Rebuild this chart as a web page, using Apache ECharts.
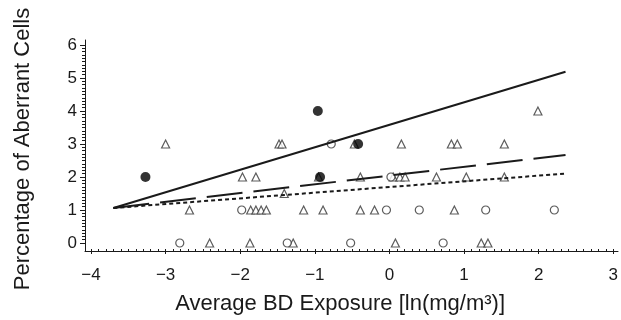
<!DOCTYPE html>
<html>
<head>
<meta charset="utf-8">
<script src="https://cdn.jsdelivr.net/npm/echarts@6/dist/echarts.min.js"></script>
<style>
  html, body { margin: 0; padding: 0; background: #fff; }
  #chart { width: 621px; height: 320px; }
</style>
</head>
<body>
<div id="chart"></div>
<script>
// points, [x, y]
const triangles = [
  [-2.41, 0], [-1.87, 0], [-1.29, 0], [0.08, 0], [1.23, 0], [1.32, 0],
  [-2.68, 1], [-1.86, 1], [-1.79, 1], [-1.72, 1], [-1.65, 1], [-1.15, 1],
  [-0.89, 1], [-0.39, 1], [-0.20, 1], [0.87, 1],
  [-1.41, 1.5],
  [-1.97, 2], [-1.79, 2], [-0.95, 2], [-0.39, 2], [0.05, 2], [0.14, 2],
  [0.21, 2], [0.63, 2], [1.03, 2], [1.54, 2],
  [-3.00, 3], [-1.48, 3], [-1.44, 3], [-0.47, 3], [0.16, 3], [0.83, 3],
  [0.91, 3], [1.54, 3],
  [1.99, 4]
];
const openCircles = [
  [-2.81, 0], [-1.37, 0], [-0.52, 0], [0.72, 0],
  [-1.98, 1], [-0.04, 1], [0.40, 1], [1.29, 1], [2.21, 1],
  [0.02, 2],
  [-0.78, 3]
];
const filledCircles = [[-3.27, 2], [-0.93, 2], [-0.42, 3], [-0.96, 4]];

// fitted lines, start and end
const solidFit = [[-3.70, 1.06], [2.36, 5.19]];
const dashedFit = [[-3.70, 1.06], [2.36, 2.67]];
const dottedFit = [[-3.70, 1.06], [2.34, 2.10]];

const xTitle = 'Average BD Exposure [ln(mg/m\u00b3)]';
const yTitle = 'Percentage of Aberrant Cells';

const ink = '#1a1a1a';
const font = '"Liberation Sans", Arial, sans-serif';

function minus(v) {
  return v < 0 ? '\u2212' + Math.abs(v) : String(v);
}

const chart = echarts.init(document.getElementById('chart'));

const tickStyle = { color: ink, width: 1 };

chart.setOption({
  animation: false,
  grid: [
    { left: 91, right: 5, top: 45, bottom: 75 },
    // longer axis lines, they run a bit past -4 and 0
    { left: 85, right: 3, top: 40, bottom: 69 }
  ],
  xAxis: [
    {
      gridIndex: 0, type: 'value', min: -4, max: 3, interval: 1, offset: 6,
      axisLine: { show: false, onZero: false },
      axisTick: { length: 5, lineStyle: tickStyle },
      minorTick: { show: true, splitNumber: 10, length: 3, lineStyle: tickStyle },
      splitLine: { show: false },
      axisLabel: { margin: 18, fontSize: 17, color: ink, fontFamily: font, formatter: minus },
      name: xTitle, nameLocation: 'middle', nameGap: 44,
      nameTextStyle: { fontSize: 22, color: ink, fontFamily: font, padding: [0, 24, 0, 0] }
    },
    {
      gridIndex: 1, type: 'value', min: -4.08, max: 3.03,
      axisLine: { onZero: false, lineStyle: tickStyle },
      axisTick: { show: false }, axisLabel: { show: false }, splitLine: { show: false }
    }
  ],
  yAxis: [
    {
      gridIndex: 0, type: 'value', min: 0, max: 6, interval: 1, offset: 6,
      axisLine: { show: false, onZero: false },
      axisTick: { length: 5, lineStyle: tickStyle },
      minorTick: { show: true, splitNumber: 10, length: 3, lineStyle: tickStyle },
      splitLine: { show: false },
      axisLabel: { margin: 8, fontSize: 17, color: ink, fontFamily: font },
      name: yTitle, nameLocation: 'middle', nameGap: 51,
      nameTextStyle: { fontSize: 22, color: ink, fontFamily: font, padding: [0, 10, 0, 0] }
    },
    {
      gridIndex: 1, type: 'value', min: -0.18, max: 6.15,
      axisLine: { onZero: false, lineStyle: tickStyle },
      axisTick: { show: false }, axisLabel: { show: false }, splitLine: { show: false }
    }
  ],
  series: [
    {
      type: 'line', data: solidFit, symbol: 'none', clip: false,
      lineStyle: { color: ink, width: 2 }
    },
    {
      type: 'line', data: dashedFit, symbol: 'none', clip: false,
      lineStyle: { color: ink, width: 2, type: [36, 11] }
    },
    {
      type: 'line', data: dottedFit, symbol: 'none', clip: false,
      lineStyle: { color: ink, width: 2, type: [4, 3] }
    },
    {
      type: 'scatter', data: triangles, symbol: 'triangle', symbolSize: 8, clip: false,
      itemStyle: { color: '#fff', borderColor: '#333', borderWidth: 1.2 }
    },
    {
      type: 'scatter', data: openCircles, symbol: 'circle', symbolSize: 8, clip: false,
      itemStyle: { color: '#fff', borderColor: '#333', borderWidth: 1.2 }
    },
    {
      type: 'scatter', data: filledCircles, symbol: 'circle', symbolSize: 10, clip: false,
      itemStyle: { color: '#000' }
    }
  ]
});
</script>
</body>
</html>
